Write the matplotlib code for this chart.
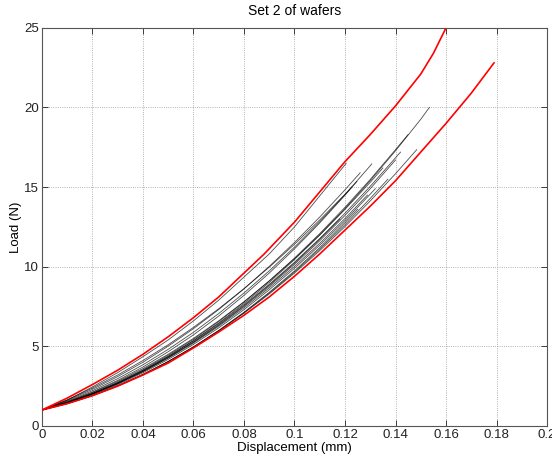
import matplotlib
matplotlib.use("Agg")
import matplotlib.pyplot as plt

plt.rcParams['font.family'] = ['Liberation Sans', 'DejaVu Sans']

# common displacement grid (mm) for the black test curves
disp_grid = [0.0, 0.01, 0.02, 0.03, 0.04, 0.05, 0.06, 0.07, 0.08, 0.09,
             0.10, 0.11, 0.12, 0.13, 0.14, 0.15]

# black curves: loads (N) on disp_grid, and the last read point (disp, load)
load_b01 = [1.0, 1.45, 2.02, 2.69, 3.47, 4.36, 5.36, 6.47, 7.69, 9.01, 10.45, 11.99, 13.65, 15.41, 17.28, 19.26]
end_b01 = (0.1534, 20.0)
load_b02 = [1.0, 1.41, 1.92, 2.53, 3.24, 4.05, 4.96, 5.97, 7.08, 8.29, 9.60, 11.01, 12.52, 14.13, 15.84]
end_b02 = (0.1484, 17.35)
load_b03 = [1.0, 1.55, 2.21, 2.97, 3.84, 4.81, 5.88, 7.06, 8.35, 9.74, 11.23, 12.83, 14.53, 16.34]
end_b03 = (0.1306, 16.46)
load_b04 = [1.0, 1.60, 2.30, 3.10, 4.00, 5.01, 6.11, 7.31, 8.61, 10.02, 11.52, 13.12, 14.83]
end_b04 = (0.126, 15.9)
load_b05 = [1.0, 1.51, 2.13, 2.86, 3.70, 4.66, 5.72, 6.90, 8.20, 9.60, 11.12, 12.75, 14.49]
end_b05 = (0.1247, 15.35)
load_b06 = [1.0, 1.45, 2.00, 2.65, 3.40, 4.26, 5.21, 6.26, 7.41, 8.67, 10.02, 11.47, 13.03]
end_b06 = (0.1289, 14.5)
load_b07 = [1.0, 1.64, 2.38, 3.20, 4.11, 5.10, 6.19, 7.36, 8.62, 9.97, 11.41, 12.94, 14.55]
end_b07 = (0.1227, 15.0)
load_b08 = [1.0, 1.62, 2.45, 3.35, 4.35, 5.40, 6.60, 7.90, 9.35, 10.80, 12.50, 14.45, 16.40]
end_b08 = (0.1205, 16.5)
load_b09 = [1.0, 1.40, 1.91, 2.52, 3.23, 4.04, 4.96, 5.98, 7.11, 8.34, 9.67, 11.11, 12.64, 14.29]
end_b09 = (0.137, 15.5)
load_b10 = [1.0, 1.47, 2.04, 2.72, 3.49, 4.37, 5.35, 6.43, 7.61, 8.89, 10.28, 11.77, 13.36, 15.05, 16.84]
end_b10 = (0.142, 17.2)
load_b11 = [1.0, 1.47, 2.05, 2.74, 3.53, 4.44, 5.44, 6.56, 7.78, 9.11, 10.54, 12.08, 13.73, 15.48, 17.35]
end_b11 = (0.145, 18.3)
load_b12 = [1.0, 1.43, 1.96, 2.60, 3.34, 4.18, 5.12, 6.16, 7.30, 8.55, 9.90, 11.35, 12.90, 14.56]
end_b12 = (0.132, 14.9)
load_b13 = [1.0, 1.45, 2.01, 2.67, 3.44, 4.31, 5.28, 6.36, 7.55, 8.84, 10.23, 11.73]
end_b13 = (0.118, 13.0)
load_b14 = [1.0, 1.50, 2.10, 2.80, 3.60, 4.50, 5.50, 6.60, 7.80, 9.10, 10.50, 12.00, 13.60, 15.30]
end_b14 = (0.135, 16.2)
load_b15 = [1.0, 1.45, 2.01, 2.66, 3.42, 4.29, 5.25, 6.32, 7.50, 8.77, 10.15, 11.63, 13.22, 14.90]
end_b15 = (0.14, 16.7)
load_b16 = [1.0, 1.39, 1.89, 2.50, 3.21, 4.04, 4.96, 6.00, 7.14, 8.39, 9.74, 11.20, 12.77]
end_b16 = (0.125, 13.6)

# red envelope curves
upper_x = [0.0, 0.01, 0.02, 0.03, 0.04, 0.05, 0.06, 0.07, 0.08, 0.088, 0.094,
           0.10, 0.11, 0.12, 0.13, 0.14, 0.15, 0.155, 0.16]
upper_y = [1.0, 1.75, 2.6, 3.5, 4.5, 5.6, 6.8, 8.1, 9.6, 10.8, 11.8,
           12.8, 14.7, 16.6, 18.3, 20.1, 22.1, 23.4, 25.0]
lower_x = [0.0, 0.01, 0.02, 0.03, 0.04, 0.05, 0.06, 0.07, 0.08, 0.09, 0.10,
           0.11, 0.12, 0.13, 0.14, 0.15, 0.16, 0.17, 0.179]
lower_y = [1.0, 1.4, 1.9, 2.5, 3.2, 3.95, 4.9, 5.9, 6.95, 8.1, 9.4,
           10.8, 12.3, 13.8, 15.4, 17.2, 19.0, 20.9, 22.8]

x_ticks = [0, 0.02, 0.04, 0.06, 0.08, 0.1, 0.12, 0.14, 0.16, 0.18, 0.2]
x_tick_labels = ['0', '0.02', '0.04', '0.06', '0.08', '0.1', '0.12', '0.14', '0.16', '0.18', '0.2']
y_ticks = [0, 5, 10, 15, 20, 25]
y_tick_labels = ['0', '5', '10', '15', '20', '25']

black_curves = [
    (load_b01, end_b01), (load_b02, end_b02), (load_b03, end_b03), (load_b04, end_b04),
    (load_b05, end_b05), (load_b06, end_b06), (load_b07, end_b07), (load_b08, end_b08),
    (load_b09, end_b09), (load_b10, end_b10), (load_b11, end_b11), (load_b12, end_b12),
    (load_b13, end_b13), (load_b14, end_b14), (load_b15, end_b15), (load_b16, end_b16),
]

fig = plt.figure(figsize=(5.52, 4.57), dpi=100)
ax = fig.add_axes([0.076, 0.068, 0.915, 0.871])

for loads, end in black_curves:
    xs = disp_grid[:len(loads)] + [end[0]]
    ys = list(loads) + [end[1]]
    ax.plot(xs, ys, color='black', lw=0.6, alpha=0.7, zorder=2)

ax.plot(upper_x, upper_y, color='#ff0000', lw=1.2, zorder=3)
ax.plot(lower_x, lower_y, color='#ff0000', lw=1.2, zorder=3)

ax.set_xlim(0, 0.2)
ax.set_ylim(0, 25)
ax.set_xticks(x_ticks)
ax.set_xticklabels(x_tick_labels)
ax.set_yticks(y_ticks)
ax.set_yticklabels(y_tick_labels)
ax.tick_params(direction='in', top=True, right=True, length=4, width=0.6,
               labelsize=9.5, pad=2, colors='#222222')
ax.grid(True, linestyle=':', color='#999999', lw=0.6)
for s in ax.spines.values():
    s.set_color('#555555')
    s.set_linewidth(0.8)

ax.set_title('Set 2 of wafers', fontsize=10, pad=9)
ax.set_xlabel('Displacement (mm)', fontsize=9.5, labelpad=1)
ax.set_ylabel('Load (N)', fontsize=9.5, labelpad=2)

fig.savefig('out.png', dpi=100, facecolor='white')
